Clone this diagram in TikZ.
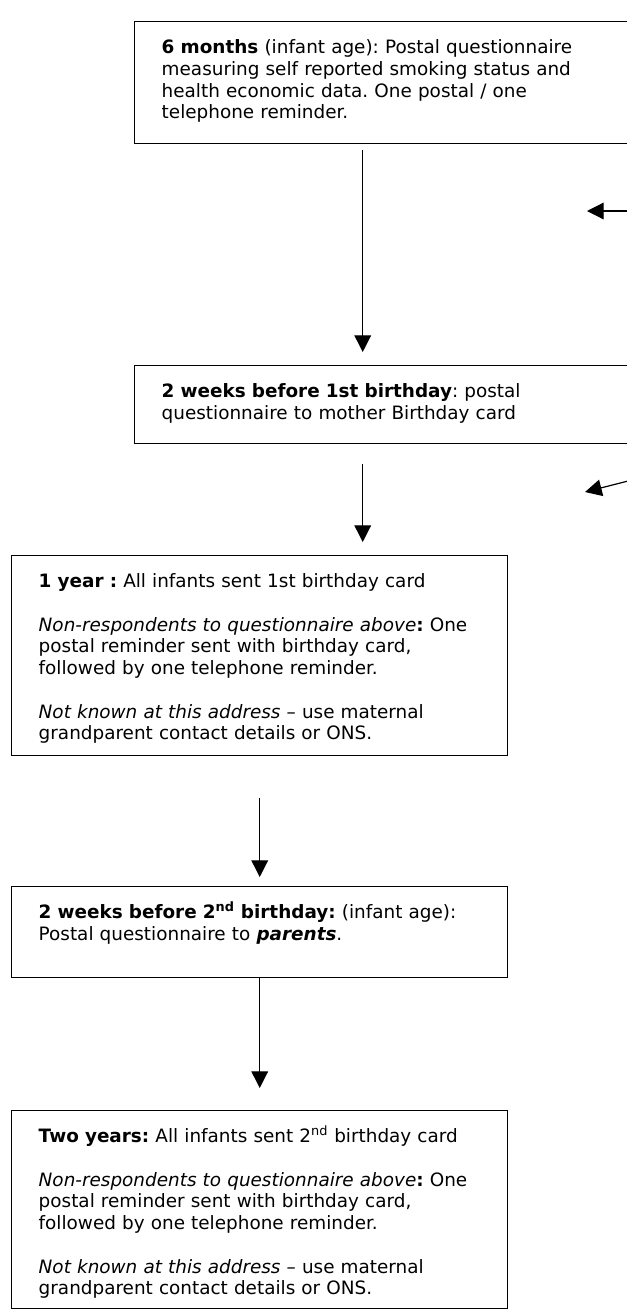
\documentclass[tikz,border=0pt]{standalone}
\usepackage{fontspec}
\setmainfont{DejaVu Sans}
\usepackage{tikz}
\usetikzlibrary{arrows.meta,calc}
\frenchspacing

\begin{document}
\begin{tikzpicture}[
        x=0.75pt, y=-0.75pt,
        stage/.style={rectangle, draw=black, line width=1.1pt, anchor=north west, text width=331.5pt, inner xsep=20.25pt, inner ysep=0pt, text height=24pt, align=left, font=\fontsize{13.8pt}{16.3pt}\selectfont},
        flow/.style={-{Triangle[length=12.5pt, width=12.5pt]}, line width=0.9pt}
    ]
    \useasboundingbox (0,0) rectangle (627,1311);

    % Follow-up stages
    \node[stage, text depth=67.5pt] (six-months) at (134,21) {\textbf{6 months} (infant age): Postal questionnaire\\measuring self reported smoking status and\\health economic data. One postal / one\\telephone reminder.};
    \node[stage, text depth=34.5pt] (before-first) at (134,365) {\textbf{2 weeks before 1st birthday}: postal\\questionnaire to mother Birthday card};
    \node[stage, text depth=126pt] (one-year) at (11,555) {\textbf{1 year :} All infants sent 1st birthday card\\[16.3pt]\textit{Non-respondents to questionnaire above}\textbf{:} One\\postal reminder sent with birthday card,\\followed by one telephone reminder.\\[16.3pt]\textit{Not known at this address} – use maternal\\grandparent contact details or ONS.};
    \node[stage, text depth=44.25pt] (before-second) at (11,886) {\textbf{2 weeks before 2\textsuperscript{nd} birthday:} (infant age):\\Postal questionnaire to \textbf{\textit{parents}}.};
    \node[stage, text depth=124.5pt] (two-years) at (11,1110) {\textbf{Two years:} All infants sent 2\textsuperscript{nd} birthday card\\[16.3pt]\textit{Non-respondents to questionnaire above}\textbf{:} One\\postal reminder sent with birthday card,\\followed by one telephone reminder.\\[16.3pt]\textit{Not known at this address} – use maternal\\grandparent contact details or ONS.};

    % Loose ends at the right margin
    \coordinate (side-a) at (632,211);
    \coordinate (side-a-tip) at (587,211);
    \coordinate (side-b) at (632,480);
    \coordinate (side-b-tip) at (585,492);

    % Connections
    \draw[flow, shorten <=4.5pt, shorten >=9.75pt] ([xshift=-15pt]six-months.south) -- ([xshift=-15pt]six-months.south |- before-first.north);
    \draw[flow, shorten <=15pt, shorten >=9.75pt] ([xshift=-15pt]before-first.south) -- ([xshift=-15pt]before-first.south |- one-year.north);
    \draw[flow, shorten <=31.5pt, shorten >=6.75pt] (one-year.south) -- (before-second.north);
    \draw[flow, shorten >=16.5pt] (before-second.south) -- (two-years.north);
    \draw[flow] (side-a) -- (side-a-tip);
    \draw[flow] (side-b) -- (side-b-tip);

\end{tikzpicture}
\end{document}
